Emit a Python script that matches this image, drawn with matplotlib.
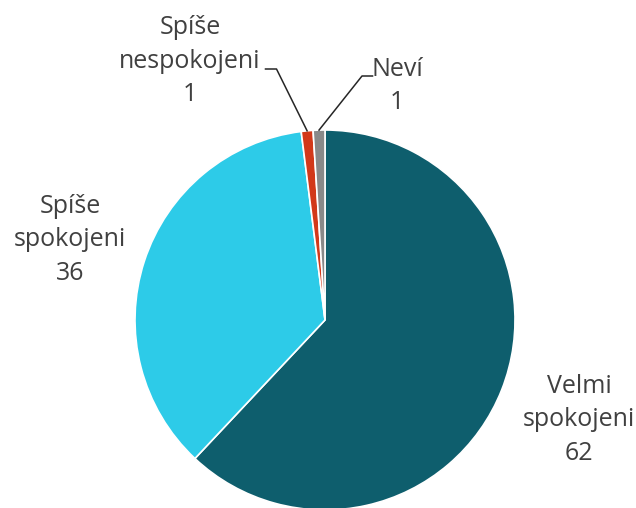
import numpy as np
import matplotlib
matplotlib.use('Agg')
import matplotlib.pyplot as plt

# data
labels = ['Velmi\nspokojeni', 'Spíše\nspokojeni', 'Spíše\nnespokojeni', 'Neví']
values = [62, 36, 1, 1]
colors = ['#0E5E6D', '#2DCBE8', '#D2391A', '#898989']

W, H = 636, 508
fig = plt.figure(figsize=(W / 100, H / 100), dpi=100)

# pie centre (325, 320) px, radius 190 px
cx, cy, r = 325, 320, 190
ax = fig.add_axes([(cx - r) / W, (H - cy - r) / H, 2 * r / W, 2 * r / H])

wedges, _ = ax.pie(values, colors=colors, startangle=90, counterclock=False, radius=1,
                   wedgeprops=dict(edgecolor='white', linewidth=1.2))
for w in wedges:
    w.set_clip_on(False)
ax.set_xlim(-1, 1)
ax.set_ylim(-1, 1)
ax.set_aspect('equal')
ax.axis('off')


def px2d(px, py):
    # pixel position -> data coordinates of the pie axes
    return (px - cx) / r, (cy - py) / r


txtcol = '#404040'
font = dict(family=['Open Sans', 'DejaVu Sans'], fontsize=18, color=txtcol, linespacing=1.45)

# label anchors (centre of text block), in pixels
label_pos = [(579, 420), (70, 240), (190, 61), (397, 86)]
for lab, v, (px, py) in zip(labels, values, label_pos):
    x, y = px2d(px, py)
    ax.text(x, y, f'{lab}\n{v}', ha='center', va='center', clip_on=False, **font)

# leader lines for the two small slices
total = sum(values)
start = 90.0
mids = []
for v in values:
    span = 360.0 * v / total
    mids.append(start - span / 2)
    start -= span

leaders = {2: [(276.5, 69), (265.5, 69)], 3: [(362, 76), (372.5, 76)]}
for i, pts in leaders.items():
    a = np.deg2rad(mids[i])
    xs = [np.cos(a)] + [px2d(*p)[0] for p in pts]
    ys = [np.sin(a)] + [px2d(*p)[1] for p in pts]
    ax.plot(xs, ys, color='#262626', lw=1.1, clip_on=False)

fig.savefig('out.png', dpi=100, facecolor='white')
